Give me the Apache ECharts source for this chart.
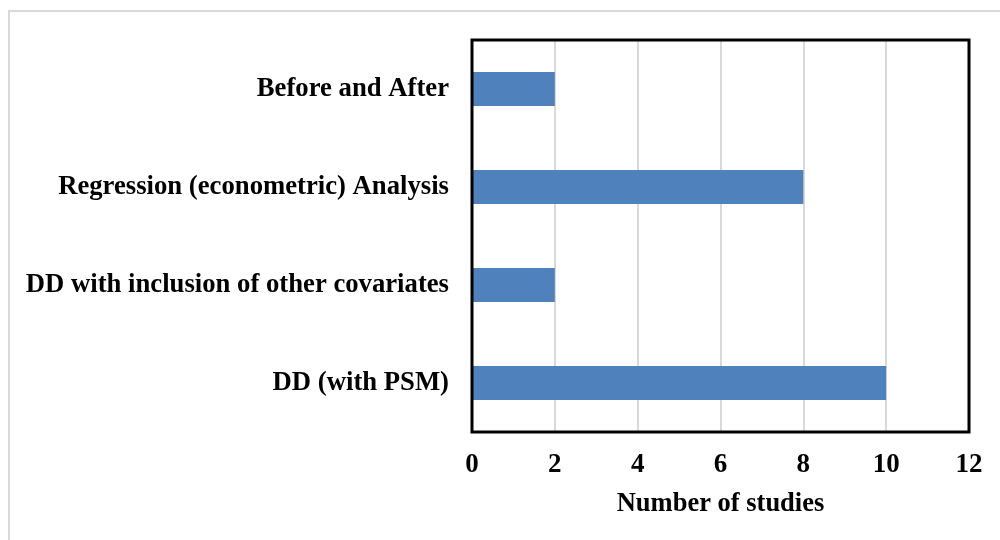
<!DOCTYPE html>
<html>
<head>
<meta charset="utf-8">
<script src="https://cdn.jsdelivr.net/npm/echarts@6/dist/echarts.min.js"></script>
<style>
  html, body { margin: 0; padding: 0; background: #ffffff; }
  #chart { width: 1000px; height: 540px; }
</style>
</head>
<body>
<div id="chart"></div>
<script>
// Study designs and how many studies used each
const methods = [
  'Before and After',
  'Regression (econometric) Analysis',
  'DD with inclusion of other covariates',
  'DD (with PSM)'
];
const studyCounts = [2, 8, 2, 10];
const xTicks = [0, 2, 4, 6, 8, 10, 12];

const serif = '"Liberation Serif", "Times New Roman", serif';
const plot = { left: 472, top: 40, width: 497, height: 392 };

const chart = echarts.init(document.getElementById('chart'), null, { renderer: 'canvas' });

chart.setOption({
  backgroundColor: '#ffffff',
  animation: false,
  graphic: [{
    type: 'rect',
    shape: { x: 9, y: 11, width: 1000, height: 540 },
    style: { fill: 'none', stroke: '#d9d9d9', lineWidth: 2 },
    silent: true,
    z: -10
  }, {
    // black frame round the plotting area
    type: 'rect',
    shape: { x: plot.left, y: plot.top, width: plot.width, height: plot.height },
    style: { fill: 'none', stroke: '#000000', lineWidth: 3 },
    silent: true,
    z: 100
  }],
  grid: {
    left: plot.left, top: plot.top, width: plot.width, height: plot.height,
    show: false
  },
  xAxis: {
    type: 'value',
    min: xTicks[0],
    max: xTicks[xTicks.length - 1],
    interval: 2,
    name: 'Number of studies',
    nameLocation: 'middle',
    nameGap: 59,
    nameTextStyle: { fontFamily: serif, fontWeight: 'bold', fontSize: 26.5, color: '#000000' },
    axisLine: { show: false },
    axisTick: { show: false },
    axisLabel: { margin: 20, fontFamily: serif, fontWeight: 'bold', fontSize: 27, color: '#000000' },
    splitLine: { show: true, lineStyle: { color: '#d9d9d9', width: 2 } }
  },
  yAxis: {
    type: 'category',
    data: methods,
    inverse: true,
    axisLine: { show: false },
    axisTick: { show: false },
    axisLabel: {
      margin: 23, padding: [4, 0, 0, 0],
      fontFamily: serif, fontWeight: 'bold', fontSize: 26.7, color: '#000000'
    },
    splitLine: { show: false }
  },
  series: [{
    type: 'bar',
    data: studyCounts,
    barWidth: 34,
    itemStyle: { color: '#4f81bd' },
    z: 1
  }]
});
</script>
</body>
</html>
